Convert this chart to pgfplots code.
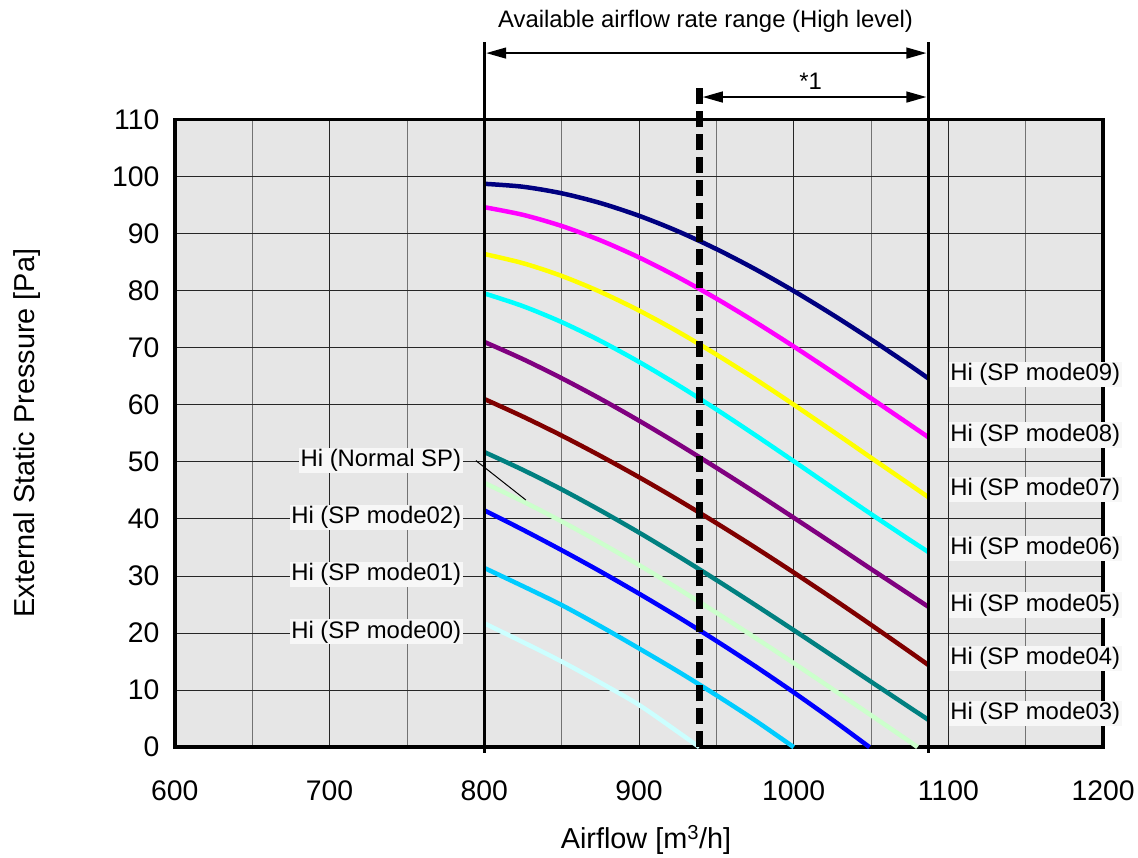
\documentclass[border=0pt]{standalone}
\usepackage{fontspec}
\setmainfont{Liberation Sans}
\usepackage{pgfplots}
\pgfplotsset{compat=1.18}
\usetikzlibrary{arrows.meta}
\definecolor{c09}{HTML}{000080}
\definecolor{c08}{HTML}{FF00FF}
\definecolor{c07}{HTML}{FFFF00}
\definecolor{c06}{HTML}{00FFFF}
\definecolor{c05}{HTML}{800080}
\definecolor{c04}{HTML}{800000}
\definecolor{c03}{HTML}{008080}
\definecolor{cns}{HTML}{CCFFCC}
\definecolor{c02}{HTML}{0000FF}
\definecolor{c01}{HTML}{00CCFF}
\definecolor{c00}{HTML}{CCFFFF}
\definecolor{bg}{HTML}{E6E6E6}
\definecolor{lblbg}{HTML}{F7F7F7}
\begin{document}
\begin{tikzpicture}
\begin{axis}[
  scale only axis, width=930bp, height=629bp,
  xmin=600, xmax=1200, ymin=0, ymax=110,
  xtick={600,700,...,1200}, minor xtick={650,750,...,1150},
  ytick={0,10,...,110},
  grid=both,
  major grid style={black!85, line width=0.8bp},
  minor grid style={black!55, line width=0.8bp},
  axis line style={line width=3.5bp},
  axis background/.style={fill=bg},
  major tick length=0pt, minor tick length=0pt,
  tick label style={font=\fontsize{28.5}{32}\selectfont},
  /pgf/number format/assume math mode=true,
  /pgf/number format/1000 sep={},
  xticklabel shift=30bp, yticklabel shift=12bp,
  xlabel={Airflow [m\textsuperscript{3}/h]},
  ylabel={External Static Pressure [Pa]},
  label style={font=\fontsize{29}{34}\selectfont},
  xlabel style={at={(axis description cs:0.5075,-0.147)}, anchor=center},
  ylabel style={at={(axis description cs:-0.159,0.5)}, anchor=center},
  clip=false,
  every axis plot/.append style={line width=4.5bp, smooth, no marks},
]
% mode09
\addplot[c09] coordinates {(800,98.7) (825,98.18) (850,97.04) (875,95.33) (900,93.10) (925,90.40) (950,87.27) (975,83.76) (1000,79.92) (1025,75.79) (1050,71.43) (1075,66.88) (1087,64.6)};
% mode08
\addplot[c08] coordinates {(800,94.6) (825,93.26) (850,91.31) (875,88.80) (900,85.80) (925,82.37) (950,78.59) (975,74.51) (1000,70.20) (1025,65.72) (1050,61.13) (1075,56.52) (1087,54.3)};
% mode07
\addplot[c07] coordinates {(800,86.4) (825,84.79) (850,82.56) (875,79.77) (900,76.50) (925,72.82) (950,68.79) (975,64.51) (1000,60.01) (1025,55.39) (1050,50.70) (1075,46.04) (1087,43.8)};
% mode06
\addplot[c06] coordinates {(800,79.5) (825,77.26) (850,74.47) (875,71.19) (900,67.50) (925,63.47) (950,59.18) (975,54.70) (1000,50.10) (1025,45.45) (1050,40.83) (1075,36.31) (1087,34.2)};
% mode05
\addplot[c05] coordinates {(800,71.0) (825,67.98) (850,64.64) (875,61.04) (900,57.20) (925,53.16) (950,48.95) (975,44.63) (1000,40.20) (1025,35.73) (1050,31.21) (1075,26.74) (1087,24.6)};
% mode04
\addplot[c04] coordinates {(800,61.0) (825,57.91) (850,54.59) (875,51.04) (900,47.30) (925,43.37) (950,39.26) (975,35.00) (1000,30.60) (1025,26.07) (1050,21.43) (1075,16.70) (1087,14.4)};
% mode03
\addplot[c03] coordinates {(800,51.7) (825,48.57) (850,45.16) (875,41.48) (900,37.60) (925,33.52) (950,29.29) (975,24.94) (1000,20.50) (1025,16.00) (1050,11.46) (1075,6.95) (1087,4.8)};
% Normal SP
\addplot[cns] coordinates {(800,46.3) (825,43.05) (850,39.55) (875,35.83) (900,31.91) (925,27.81) (950,23.56) (975,19.19) (1000,14.72) (1025,10.18) (1050,5.59) (1075,0.97) (1080,0)};
% mode02
\addplot[c02] coordinates {(800,41.5) (825,38.08) (850,34.51) (875,30.79) (900,26.90) (925,22.85) (950,18.62) (975,14.21) (1000,9.60) (1025,4.80) (1049,0)};
% mode01
\addplot[c01] coordinates {(800,31.4) (825,28.2) (850,24.9) (875,21.2) (900,17.3) (925,13.3) (950,9.1) (975,4.7) (1000,0)};
% mode00
\addplot[c00] coordinates {(800,21.7) (825,18.4) (850,15.0) (875,11.3) (900,7.4) (925,2.7) (939,0)};

% range lines
\draw[line width=3.5bp] (axis cs:800,-1) -- (axis cs:800,123.6);
\draw[line width=3.5bp] (axis cs:1087,-1) -- (axis cs:1087,123.6);
\draw[line width=7bp, dash pattern=on 16bp off 7bp] (axis cs:939,0) -- (axis cs:939,115.6);
\draw[line width=1.5bp, {Triangle[length=20bp,width=11bp]}-{Triangle[length=20bp,width=11bp]}, shorten <=2bp, shorten >=2bp]
  (axis cs:800,121.6) -- (axis cs:1087,121.6);
\draw[line width=1.5bp, {Triangle[length=20bp,width=11bp]}-{Triangle[length=20bp,width=11bp]}, shorten <=3.5bp, shorten >=2bp]
  (axis cs:939,113.9) -- (axis cs:1087,113.9);
\node[font=\fontsize{24}{28}\selectfont] at (axis cs:943,127.2) {Available airflow rate range (High level)};
\node[font=\fontsize{24}{28}\selectfont] at (axis cs:1011,116.6) {*1};

% right labels
\begin{scope}[every node/.style={font=\fontsize{24}{28}\selectfont, fill=lblbg, inner sep=1.5bp, anchor=west}]
\node at (axis cs:1100.1,65.3) {Hi (SP mode09)};
\node at (axis cs:1100.1,54.7) {Hi (SP mode08)};
\node at (axis cs:1100.1,45.1) {Hi (SP mode07)};
\node at (axis cs:1100.1,34.8) {Hi (SP mode06)};
\node at (axis cs:1100.1,24.9) {Hi (SP mode05)};
\node at (axis cs:1100.1,15.6) {Hi (SP mode04)};
\node at (axis cs:1100.1,5.9) {Hi (SP mode03)};
\end{scope}
% left labels
\begin{scope}[every node/.style={font=\fontsize{24}{28}\selectfont, fill=lblbg, inner sep=1.5bp, anchor=east}]
\node at (axis cs:786.1,50.2) {Hi (Normal SP)};
\node at (axis cs:786.1,40.2) {Hi (SP mode02)};
\node at (axis cs:786.1,30.3) {Hi (SP mode01)};
\node at (axis cs:786.1,20.2) {Hi (SP mode00)};
\end{scope}
\draw[line width=1bp] (axis cs:794.6,50.2) -- (axis cs:826.9,43.3);

% bounding box
\path (axis cs:487,-19.06) rectangle (axis cs:1221.3,130.9);
\end{axis}
\end{tikzpicture}
\end{document}
